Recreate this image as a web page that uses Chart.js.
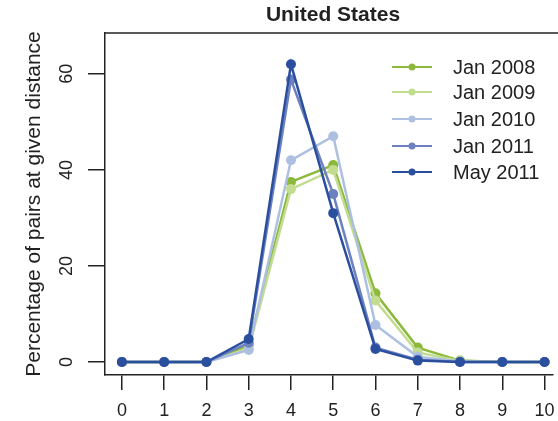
<!DOCTYPE html>
<html>
<head>
<meta charset="utf-8">
<script src="https://cdn.jsdelivr.net/npm/chart.js@4"></script>
<style>
html,body{margin:0;padding:0;background:#fff;}
#wrap{width:558px;height:421px;position:relative;}
</style>
</head>
<body>
<div id="wrap"><canvas id="c"></canvas></div>
<script>
const distances = [0,1,2,3,4,5,6,7,8,9,10];
const seriesNames = ["Jan 2008","Jan 2009","Jan 2010","Jan 2011","May 2011"];
const jan2008 = [0,0,0,3.5,37.5,41,14.3,3,0.3,0,0];
const jan2009 = [0,0,0,2.8,36,40,12.8,2,0.2,0,0];
const jan2010 = [0,0,0,2.5,42,47,7.7,1.1,0.1,0,0];
const jan2011 = [0,0,0,4,58.8,35,3,0.5,0,0,0];
const may2011 = [0,0,0,4.8,62,31,2.7,0.3,0,0,0];
const yTickValues = [0,20,40,60];
const xTickValues = [0,1,2,3,4,5,6,7,8,9,10];
const chartTitle = "United States";
const yTitle = "Percentage of pairs at given distance";

const colors = ["#8cb83c","#c2dc90","#adc0e2","#6d80c0","#2b4f9f"];
const allSeries = [jan2008,jan2009,jan2010,jan2011,may2011];
const FONT = "'Liberation Sans', Arial, sans-serif";
const INK = "#222";

const datasets = allSeries.map((vals,i)=>({
  label: seriesNames[i],
  data: vals.map((v,j)=>({x:distances[j], y:v})),
  borderColor: colors[i],
  backgroundColor: colors[i],
  pointBackgroundColor: colors[i],
  pointBorderColor: colors[i],
  pointRadius: 5,
  pointBorderWidth: 0,
  borderWidth: 2.5,
  tension: 0,
  order: seriesNames.length - i
}));

const extras = {
  id: 'extras',
  afterDatasetsDraw(chart){
    const ctx = chart.ctx, a = chart.chartArea;
    ctx.save();
    // top border of box
    ctx.strokeStyle = INK; ctx.lineWidth = 1.5;
    ctx.beginPath(); ctx.moveTo(a.left, a.top); ctx.lineTo(a.right+6, a.top); ctx.stroke();
    // title
    ctx.fillStyle = INK;
    ctx.font = "bold 21px " + FONT;
    ctx.textAlign = "center"; ctx.textBaseline = "middle";
    ctx.fillText(chartTitle, 333, 15);
    // legend
    const rows = [67, 92, 119, 146, 172];
    ctx.font = "20px " + FONT;
    ctx.textAlign = "left";
    seriesNames.forEach((n,i)=>{
      const y = rows[i];
      ctx.strokeStyle = colors[i]; ctx.lineWidth = 2.2;
      ctx.beginPath(); ctx.moveTo(392, y); ctx.lineTo(432, y); ctx.stroke();
      ctx.fillStyle = colors[i];
      ctx.beginPath(); ctx.arc(412, y, 3.5, 0, Math.PI*2); ctx.fill();
      ctx.fillStyle = INK;
      ctx.fillText(n, 453, y+1);
    });
    ctx.restore();
  }
};

new Chart(document.getElementById('c'), {
  type: 'line',
  data: { datasets },
  options: {
    responsive: true,
    maintainAspectRatio: false,
    animation: false,
    layout: { padding: { top: 33, left: 22, right: 1, bottom: 0 } },
    plugins: { legend: { display: false }, title: { display: false }, tooltip: { enabled: false } },
    scales: {
      x: {
        type: 'linear',
        min: -0.4, max: 10.2,
        afterFit(s){ s.height = 46; s.paddingLeft = 0; s.paddingRight = 0; },
        afterBuildTicks(s){ s.ticks = xTickValues.map(v=>({value:v})); },
        grid: { drawOnChartArea: false, drawTicks: true, tickLength: 15, color: INK, lineWidth: 1.5 },
        border: { display: true, color: INK, width: 1.5 },
        ticks: { color: INK, font: { family: FONT, size: 18 }, padding: 10, maxRotation: 0, autoSkip: false }
      },
      y: {
        type: 'linear',
        min: -2.7, max: 68.5,
        afterFit(s){ s.width = 83; s.paddingTop = 0; s.paddingBottom = 0; },
        afterBuildTicks(s){ s.ticks = yTickValues.map(v=>({value:v})); },
        grid: { drawOnChartArea: false, drawTicks: true, tickLength: 17, color: INK, lineWidth: 1.5 },
        border: { display: true, color: INK, width: 1.5 },
        ticks: { color: INK, font: { family: FONT, size: 18 }, padding: 11, minRotation: 90, maxRotation: 90, crossAlign: 'center' },
        title: { display: true, text: yTitle, color: INK, font: { family: FONT, size: 21 }, padding: 0 }
      }
    }
  },
  plugins: [extras]
});
</script>
</body>
</html>
